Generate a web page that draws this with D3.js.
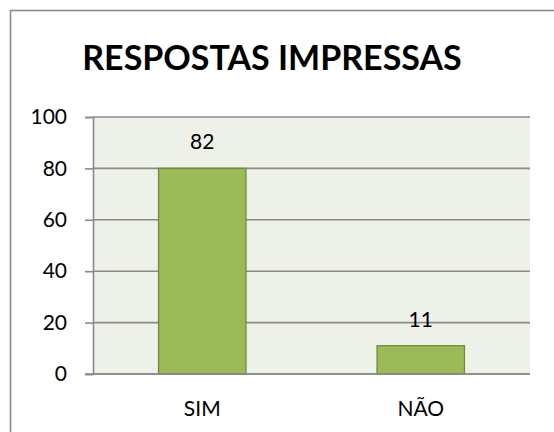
<!DOCTYPE html>
<html>
<head>
<meta charset="utf-8">
<script src="https://cdn.jsdelivr.net/npm/d3@7"></script>
<style>
  html, body { margin: 0; padding: 0; background: #fff; }
  svg { display: block; }
  text { font-family: Lato, "Open Sans", sans-serif; fill: #000; }
</style>
</head>
<body>
<svg id="chart" width="554" height="432"></svg>
<script>
const title = "RESPOSTAS IMPRESSAS";
const categories = ["SIM", "NÃO"];
const barValues = [80, 11];
const dataLabels = ["82", "11"];
const yTicks = [0, 20, 40, 60, 80, 100];

const svg = d3.select("#chart");
const W = 554, H = 432;
const plot = { left: 93, right: 530, top: 117, bottom: 374 };

// outer chart border (extends past the right/bottom of the frame)
svg.append("rect")
  .attr("x", 10.5).attr("y", 10.5)
  .attr("width", W + 10).attr("height", H + 10)
  .attr("fill", "#fff").attr("stroke", "#8c8c8c").attr("stroke-width", 1.6);

// title
svg.append("text")
  .attr("x", 272).attr("y", 70)
  .attr("text-anchor", "middle")
  .attr("font-size", 34).attr("font-weight", "bold")
  .text(title);

const x = d3.scaleBand()
  .domain(categories)
  .range([plot.left, plot.right])
  .paddingInner(0.6).paddingOuter(0.3);

const y = d3.scaleLinear().domain([0, 100]).range([plot.bottom, plot.top]);

// plot background
svg.append("rect")
  .attr("x", plot.left).attr("y", plot.top)
  .attr("width", plot.right - plot.left).attr("height", plot.bottom - plot.top)
  .attr("fill", "#eef1e8");

// gridlines + ticks via axis
const yAxis = d3.axisLeft(y).tickValues(yTicks).tickSize(8).tickPadding(18);
const gy = svg.append("g").attr("transform", `translate(${plot.left},0)`).call(yAxis);
gy.select(".domain").attr("stroke", "#8a8a8a").attr("stroke-width", 1.6);
gy.selectAll(".tick line").attr("stroke", "#8a8a8a").attr("stroke-width", 1.6);
gy.selectAll(".tick text")
  .attr("font-size", 21).attr("font-family", "Lato, sans-serif").attr("fill", "#000");

svg.append("g").selectAll("line").data(yTicks).join("line")
  .attr("x1", plot.left).attr("x2", plot.right)
  .attr("y1", d => y(d)).attr("y2", d => y(d))
  .attr("stroke", "#8a8a8a").attr("stroke-width", 1.6);

// bars
svg.append("g").selectAll("rect").data(categories).join("rect")
  .attr("x", c => x(c))
  .attr("y", (c, i) => y(barValues[i]))
  .attr("width", x.bandwidth())
  .attr("height", (c, i) => y(0) - y(barValues[i]))
  .attr("fill", "#9bbb59").attr("stroke", "#71893f").attr("stroke-width", 1.3);

// baseline redraw on top
svg.append("line")
  .attr("x1", plot.left - 8).attr("x2", plot.right)
  .attr("y1", y(0)).attr("y2", y(0))
  .attr("stroke", "#8a8a8a").attr("stroke-width", 1.6);

// data labels
svg.append("g").selectAll("text").data(categories).join("text")
  .attr("x", c => x(c) + x.bandwidth() / 2)
  .attr("y", (c, i) => y(barValues[i]) - 19)
  .attr("text-anchor", "middle").attr("font-size", 21)
  .text((c, i) => dataLabels[i]);

// category labels
svg.append("g").selectAll("text").data(categories).join("text")
  .attr("x", c => x(c) + x.bandwidth() / 2)
  .attr("y", 416)
  .attr("text-anchor", "middle").attr("font-size", 21)
  .text(c => c);
</script>
</body>
</html>
